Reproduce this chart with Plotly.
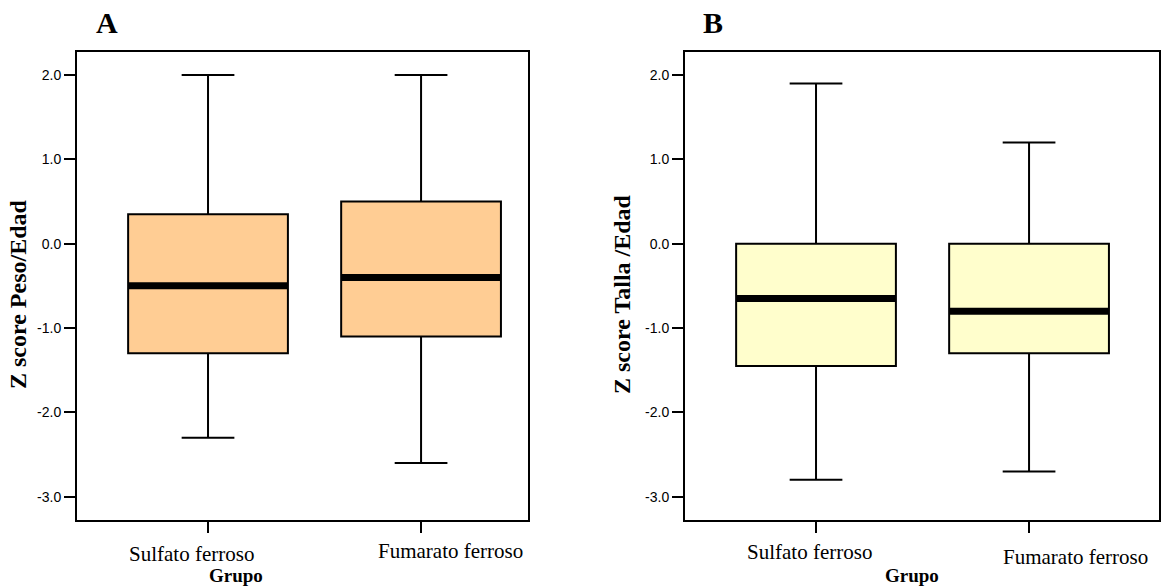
import plotly.graph_objects as go

# Treatment groups
grupos = ["Sulfato ferroso", "Fumarato ferroso"]

# Z score Peso/Edad (panel A): whisker ends, quartiles and median
peso_min = [-2.3, -2.6]
peso_q1 = [-1.3, -1.1]
peso_med = [-0.5, -0.4]
peso_q3 = [0.35, 0.5]
peso_max = [2.0, 2.0]

# Z score Talla/Edad (panel B)
talla_min = [-2.8, -2.7]
talla_q1 = [-1.45, -1.3]
talla_med = [-0.65, -0.8]
talla_q3 = [0.0, 0.0]
talla_max = [1.9, 1.2]

y_ticks = [-3.0, -2.0, -1.0, 0.0, 1.0, 2.0]
y_ticktext = ["-3.0", "-2.0", "-1.0", "0.0", "1.0", "2.0"]

SERIF = "Liberation Serif, Times New Roman, serif"
SANS = "Liberation Sans, Arial, sans-serif"
W, H = 1161, 588
BOX_W = 0.75

fig = go.Figure()


def add_panel(xa, ya, q1, med, q3, lo, hi, fill):
    fig.add_trace(go.Box(
        x=grupos, q1=q1, median=med, q3=q3, lowerfence=lo, upperfence=hi,
        xaxis=xa, yaxis=ya, width=BOX_W, whiskerwidth=0.33,
        fillcolor=fill, line=dict(color="black", width=2),
        boxpoints=False, showlegend=False,
    ))
    # heavy median bar
    for i, m in enumerate(med):
        fig.add_shape(type="line", xref=xa, yref=ya,
                      x0=i - BOX_W / 2, x1=i + BOX_W / 2, y0=m, y1=m,
                      line=dict(color="black", width=7))


add_panel("x", "y", peso_q1, peso_med, peso_q3, peso_min, peso_max, "#FFCD94")
add_panel("x2", "y2", talla_q1, talla_med, talla_q3, talla_min, talla_max, "#FFFECC")

xcommon = dict(
    type="category", categoryorder="array", categoryarray=grupos,
    showline=True, linecolor="black", linewidth=2, mirror=True,
    ticks="outside", ticklen=11, tickwidth=2, tickcolor="black",
    showgrid=False, zeroline=False, showticklabels=False,
)
ycommon = dict(
    range=[-3.276, 2.273], tickvals=y_ticks, ticktext=y_ticktext,
    showline=True, linecolor="black", linewidth=2, mirror=True,
    ticks="outside", ticklen=11, tickwidth=2, tickcolor="black",
    showgrid=False, zeroline=False,
    tickfont=dict(family=SANS, size=14, color="black"),
    domain=[(H - 520) / H, (H - 52) / H],
)

fig.update_layout(
    width=W, height=H, margin=dict(l=0, r=0, t=0, b=0),
    paper_bgcolor="white", plot_bgcolor="white",
    xaxis=dict(xcommon, domain=[77 / W, 528 / W], range=[-0.615, 1.502], anchor="y"),
    yaxis=dict(ycommon, anchor="x"),
    xaxis2=dict(xcommon, domain=[685 / W, 1159 / W], range=[-0.615, 1.61], anchor="y2"),
    yaxis2=dict(ycommon, anchor="x2"),
)

ann = []
# panel letters
for txt, x, y in [("A", 107, 22), ("B", 713, 22)]:
    ann.append(dict(text="<b>%s</b>" % txt, x=x / W, y=1 - y / H, xref="paper", yref="paper",
                    showarrow=False, xanchor="center", yanchor="middle",
                    font=dict(family=SERIF, size=30, color="black")))
# y-axis titles
for txt, x in [("Z score Peso/Edad", 18), ("Z score Talla /Edad", 622)]:
    ann.append(dict(text="<b>%s</b>" % txt, x=x / W, y=1 - 294 / H, xref="paper", yref="paper",
                    showarrow=False, textangle=-90, xanchor="center", yanchor="middle",
                    font=dict(family=SERIF, size=24, color="black")))
# group labels under each panel
label_pos = [[(191, 554), (451, 551)], [(809, 552), (1075, 557)]]
for panel in label_pos:
    for name, (x, y) in zip(grupos, panel):
        ann.append(dict(text=name, x=x / W, y=1 - y / H, xref="paper", yref="paper",
                        showarrow=False, xanchor="center", yanchor="middle",
                        font=dict(family=SERIF, size=21, color="black")))
# x-axis titles
for x in [236, 912]:
    ann.append(dict(text="<b>Grupo</b>", x=x / W, y=1 - 575 / H, xref="paper", yref="paper",
                    showarrow=False, xanchor="center", yanchor="middle",
                    font=dict(family=SERIF, size=19, color="black")))
fig.update_layout(annotations=ann)

fig.write_html("out.html")
